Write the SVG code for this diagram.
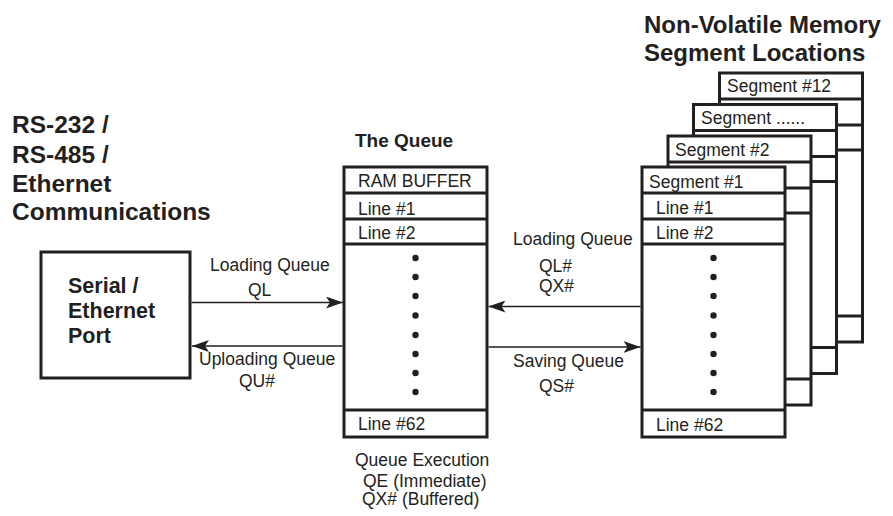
<svg xmlns="http://www.w3.org/2000/svg" width="893" height="516" viewBox="0 0 893 516">
<defs>
<style>
.t{font-family:"Liberation Sans",Arial,sans-serif;font-size:17.5px;fill:#231f20}
.b{font-family:"Liberation Sans",Arial,sans-serif;font-weight:bold;fill:#231f20}
.box{fill:#fff;stroke:#231f20;stroke-width:3}
.div{stroke:#231f20;stroke-width:3;fill:none}
.conn{stroke:#231f20;stroke-width:1.6;fill:none;marker-end:url(#ah)}
.dot{fill:#231f20}
</style>
<marker id="ah" viewBox="0 0 17 12" refX="17" refY="6" markerWidth="17" markerHeight="12" markerUnits="userSpaceOnUse" orient="auto">
<path d="M0,0 L17,6 L0,12 L4,6 Z" fill="#231f20"/>
</marker>
<g id="dots">
<circle class="dot" cx="0" cy="258" r="3.2"/>
<circle class="dot" cx="0" cy="277" r="3.2"/>
<circle class="dot" cx="0" cy="296" r="3.2"/>
<circle class="dot" cx="0" cy="315.5" r="3.2"/>
<circle class="dot" cx="0" cy="335" r="3.2"/>
<circle class="dot" cx="0" cy="354" r="3.2"/>
<circle class="dot" cx="0" cy="373" r="3.2"/>
<circle class="dot" cx="0" cy="392" r="3.2"/>
</g>
<path id="rows" d="M0,26 H143 M0,52 H143 M0,77 H143 M0,243 H143"/>
</defs>
<rect width="893" height="516" fill="#fff"/>

<g id="titles">
<text class="b" font-size="24.5" x="12" y="133">RS-232 /</text>
<text class="b" font-size="24.5" x="12" y="163">RS-485 /</text>
<text class="b" font-size="24.5" x="12" y="192">Ethernet</text>
<text class="b" font-size="24.5" x="12" y="220">Communications</text>
<text class="b" font-size="19" x="355" y="147">The Queue</text>
<text class="b" font-size="24" x="644" y="33">Non-Volatile Memory</text>
<text class="b" font-size="24" x="644" y="61">Segment Locations</text>
</g>

<g id="serial-port">
<rect class="box" x="41" y="252" width="149" height="126"/>
<text class="b" font-size="21.5" x="68" y="293">Serial /</text>
<text class="b" font-size="21.5" x="68" y="318">Ethernet</text>
<text class="b" font-size="21.5" x="68" y="343">Port</text>
</g>

<g id="queue">
<rect class="box" x="344" y="167" width="143" height="270"/>
<use href="#rows" class="div" transform="translate(344,167)"/>
<text class="t" x="358" y="187">RAM BUFFER</text>
<text class="t" x="358" y="215">Line #1</text>
<text class="t" x="358" y="239">Line #2</text>
<use href="#dots" x="415.5"/>
<text class="t" x="358" y="430">Line #62</text>
</g>

<g id="segment-12">
<rect class="box" x="719.5" y="73" width="143" height="269"/>
<use href="#rows" class="div" transform="translate(719.5,73)"/>
<text class="t" x="727" y="92">Segment #12</text>
</g>
<g id="segment-dots">
<rect class="box" x="693.5" y="104.5" width="143" height="269"/>
<use href="#rows" class="div" transform="translate(693.5,104.5)"/>
<text class="t" x="701" y="124">Segment ......</text>
</g>
<g id="segment-2">
<rect class="box" x="668" y="136" width="143" height="269"/>
<use href="#rows" class="div" transform="translate(668,136)"/>
<text class="t" x="675" y="156">Segment #2</text>
</g>
<g id="segment-1">
<rect class="box" x="642" y="167" width="143" height="270"/>
<use href="#rows" class="div" transform="translate(642,167)"/>
<text class="t" x="649" y="188">Segment #1</text>
<text class="t" x="656" y="214">Line #1</text>
<text class="t" x="656" y="239">Line #2</text>
<use href="#dots" x="713.5"/>
<text class="t" x="656" y="431">Line #62</text>
</g>

<g id="connectors">
<line class="conn" x1="191.5" y1="302.5" x2="343" y2="302.5"/>
<line class="conn" x1="342.5" y1="346" x2="192" y2="346"/>
<line class="conn" x1="640.5" y1="306.5" x2="488.5" y2="306.5"/>
<line class="conn" x1="488.5" y1="347" x2="640.5" y2="347"/>
</g>

<g id="labels">
<text class="t" x="210" y="271">Loading Queue</text>
<text class="t" x="248" y="296">QL</text>
<text class="t" x="199" y="365">Uploading Queue</text>
<text class="t" x="239" y="387">QU#</text>
<text class="t" x="513" y="245">Loading Queue</text>
<text class="t" x="539" y="272">QL#</text>
<text class="t" x="539" y="292">QX#</text>
<text class="t" x="513" y="367">Saving Queue</text>
<text class="t" x="539" y="392">QS#</text>
<text class="t" x="355" y="466">Queue Execution</text>
<text class="t" x="363" y="487">QE (Immediate)</text>
<text class="t" x="362" y="505">QX# (Buffered)</text>
</g>
</svg>
